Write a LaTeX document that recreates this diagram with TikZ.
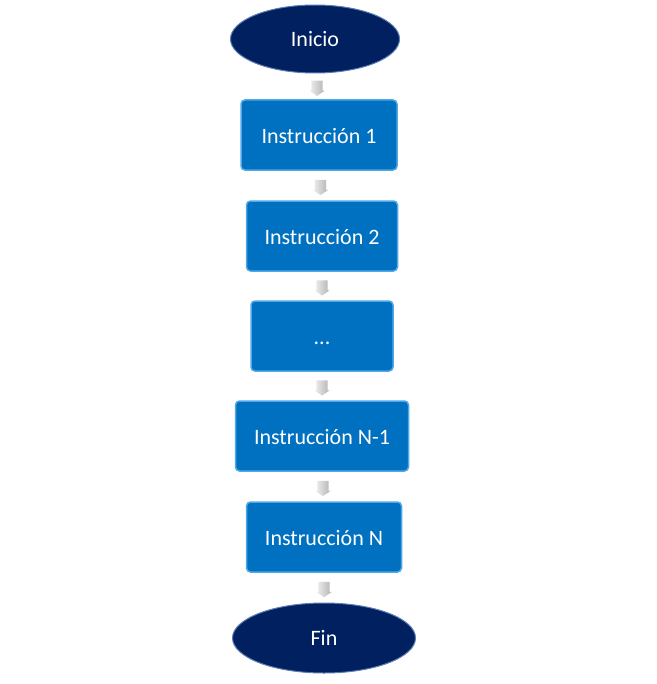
\documentclass[tikz,border=0pt]{standalone}
\usepackage{fontspec}
\setmainfont{Carlito}
\usepackage{tikz}
\usetikzlibrary{positioning,shapes}
\definecolor{azul}{HTML}{0070C0}
\definecolor{azulborde}{HTML}{4FA8E8}
\definecolor{marino}{HTML}{002060}
\definecolor{marinoborde}{HTML}{5C7CB4}

\begin{document}
\begin{tikzpicture}[x=1bp, y=-1bp,
      caja/.style={rectangle, rounded corners=4bp, fill=azul, draw=azulborde,
                   line width=1.5bp, text=white, minimum height=70bp,
                   text height=19bp, text depth=3bp,
                   font=\fontsize{22bp}{26bp}\selectfont},
      extremo/.style={ellipse, fill=marino, draw=marinoborde, line width=1bp,
                      text=white, font=\fontsize{22bp}{26bp}\selectfont},
      flecha/.style={single arrow, shape border rotate=270, inner sep=5.5bp,
                     minimum width=15bp, minimum height=14bp,
                     single arrow head extend=2bp, single arrow tip angle=112,
                     left color=gray!12, right color=gray!60, draw=none}]
      \useasboundingbox (0, 0) rectangle (657, 684);
      \node (ini) [extremo, minimum width=169bp, minimum height=68bp] at (315, 39) {Inicio};
      \node (ins1) [caja, minimum width=156bp] at (319, 135) {Instrucción 1};
      \node (ins2) [caja, minimum width=151bp] at (322, 236) {Instrucción 2};
      \node (dots) [caja, minimum width=142bp] at (322, 336) {...};
      \node (insn1) [caja, minimum width=173bp] at (322, 436) {Instrucción N-1};
      \node (insn) [caja, minimum width=155bp] at (324, 537) {Instrucción N};
      \node (fin) [extremo, minimum width=183bp, minimum height=70bp] at (324, 638) {Fin};
      \path (ini.south) -- (ins1.north) node [midway, flecha] {}
            (ins1.south) -- (ins2.north) node [midway, flecha] {}
            (ins2.south) -- (dots.north) node [midway, flecha] {}
            (dots.south) -- (insn1.north) node [midway, flecha] {}
            (insn1.south) -- (insn.north) node [midway, flecha] {}
            (insn.south) -- (fin.north) node [midway, flecha] {};
\end{tikzpicture}
\end{document}
